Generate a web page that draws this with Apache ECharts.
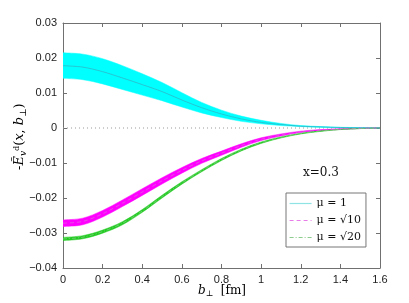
<!DOCTYPE html>
<html><head><meta charset="utf-8">
<script src="https://cdn.jsdelivr.net/npm/echarts@6/dist/echarts.min.js"></script>
<style>html,body{margin:0;padding:0;background:#fff}#c{width:409px;height:303px}</style>
</head><body><div id="c"></div>
<script>
const bPerp = [0,0.1,0.2,0.3,0.4,0.5,0.6,0.7,0.8,0.9,1.0,1.1,1.2,1.3,1.4,1.5,1.6];
const mu1Upper  = [0.0215,0.0211,0.0198,0.0178,0.0155,0.0130,0.0101,0.0073,0.0051,0.0034,0.0022,0.0013,0.0007,0.0004,0.0002,0.0001,0];
const mu1Lower  = [0.0142,0.0138,0.0126,0.0110,0.0094,0.0078,0.0060,0.0043,0.0030,0.0019,0.0012,0.0007,0.0004,0.0002,0.0001,0.00003,0];
const mu1Center = [0.0178,0.0174,0.0161,0.0143,0.0124,0.0104,0.0080,0.0058,0.0040,0.0026,0.0016,0.0010,0.0005,0.0003,0.00015,0.00006,0];
const mu10Center = [-0.0272,-0.0267,-0.0245,-0.0215,-0.0183,-0.0151,-0.0121,-0.0094,-0.0072,-0.0050,-0.0032,-0.0020,-0.0011,-0.0006,-0.0003,-0.0001,0];
const mu10Half   = [0.00095,0.00095,0.00095,0.00095,0.00095,0.0009,0.0008,0.0007,0.0006,0.0005,0.0004,0.0003,0.0002,0.00015,0.0001,0.00005,0];
const mu20Center = [-0.0317,-0.0312,-0.0296,-0.0272,-0.0237,-0.0196,-0.0157,-0.0122,-0.0090,-0.0063,-0.0042,-0.0027,-0.0016,-0.0009,-0.0004,-0.00015,0];
const mu20Half   = [0.00045,0.00045,0.00045,0.00045,0.0004,0.0004,0.00035,0.0003,0.0003,0.00025,0.0002,0.00015,0.0001,0.00008,0.00005,0.00002,0];
const xTicks = {min:0, max:1.6, interval:0.2};
const yTicks = {min:-0.04, max:0.03, interval:0.01};
const legendNames = ['μ = 1','μ = √10','μ = √20'];

const chart = echarts.init(document.getElementById('c'), null, {renderer:'canvas'});
// Catmull-Rom -> cubic bezier path through pixel points (rendering only)
function smoothPath(pts, start){
  let d = (start ? 'M' : 'L') + pts[0][0] + ',' + pts[0][1];
  const n = pts.length;
  for (let i=0;i<n-1;i++){
    const p0 = pts[Math.max(0,i-1)], p1 = pts[i], p2 = pts[i+1], p3 = pts[Math.min(n-1,i+2)];
    const c1 = [p1[0] + (p2[0]-p0[0])/6, p1[1] + (p2[1]-p0[1])/6];
    const c2 = [p2[0] - (p3[0]-p1[0])/6, p2[1] - (p3[1]-p1[1])/6];
    d += 'C' + c1[0] + ',' + c1[1] + ' ' + c2[0] + ',' + c2[1] + ' ' + p2[0] + ',' + p2[1];
  }
  return d;
}
function band(lowerArr, upperArr, color){
  const rows = bPerp.map((x,i)=>[x, lowerArr[i], upperArr[i]]);
  return {
    type:'custom', data:rows, encode:{x:0, y:[1,2]}, clip:true, silent:true, z:2,
    renderItem:(params, api)=>{
      if (params.dataIndex !== 0) return null;
      const upper = rows.map(r=>api.coord([r[0], r[2]]));
      const lower = rows.map(r=>api.coord([r[0], r[1]])).reverse();
      const d = smoothPath(upper, true) + smoothPath(lower, false) + 'Z';
      return {type:'path', shape:{pathData:d},
        style:{fill:color, stroke:color, lineWidth:0.5}};
    }
  };
}
function centerLine(name, center, color, type){
  return {type:'line', name:name, data:bPerp.map((x,i)=>[x,center[i]]), showSymbol:false, symbol:'none', smooth:0.3,
    lineStyle:{width:0.8, color:color, type:type}, itemStyle:{color:color}, z:3};
}
const yFmt = v => { const r = Math.round(v*100)/100; if (r===0) return '0'; return (r<0?'\u2212':'') + Math.abs(r).toFixed(2); };
const xFmt = v => String(Math.round(v*10)/10);
const axisLineStyle = {color:'#707070', width:1};
const labelStyle = {fontFamily:'Liberation Sans', fontSize:11, color:'#222'};

chart.setOption({
  animation:false,
  grid:{left:63, right:29, top:23, bottom:35},
  xAxis:[
    {type:'value', ...xTicks, position:'bottom', axisLine:{onZero:false, lineStyle:axisLineStyle}, axisTick:{inside:true, length:4, lineStyle:axisLineStyle},
     axisLabel:{...labelStyle, formatter:xFmt, margin:6}, splitLine:{show:false}},
    {type:'value', ...xTicks, position:'top', axisLine:{onZero:false, lineStyle:axisLineStyle}, axisTick:{inside:true, length:4, lineStyle:axisLineStyle},
     axisLabel:{show:false}, splitLine:{show:false}}
  ],
  yAxis:[
    {type:'value', ...yTicks, position:'left', axisLine:{show:true, onZero:false, lineStyle:axisLineStyle}, axisTick:{show:true, inside:true, length:4, lineStyle:axisLineStyle},
     axisLabel:{...labelStyle, formatter:yFmt, margin:6}, splitLine:{show:false}},
    {type:'value', ...yTicks, position:'right', axisLine:{show:true, onZero:false, lineStyle:axisLineStyle}, axisTick:{show:true, inside:true, length:4, lineStyle:axisLineStyle},
     axisLabel:{show:false}, splitLine:{show:false}}
  ],
  legend:{
    data:[
      {name:legendNames[0], itemStyle:{opacity:0}, lineStyle:{color:'#8fe3e3', width:1.2, type:'solid'}},
      {name:legendNames[1], itemStyle:{opacity:0}, lineStyle:{color:'#e87ce8', width:1.2, type:[4,3]}},
      {name:legendNames[2], itemStyle:{opacity:0}, lineStyle:{color:'#8ccc8c', width:1.2, type:[4,2,1,2]}}
    ],
    orient:'vertical', left:286, top:193,
    backgroundColor:'#fff', borderColor:'#777', borderWidth:1, borderRadius:0,
    padding:[5,5,4,3], itemGap:6, itemWidth:22, itemHeight:8,
    textStyle:{fontFamily:'DejaVu Serif', fontSize:11, color:'#111'}
  },
  series:[
    {type:'line', name:'zero', data:[[0,0],[1.6,0]], showSymbol:false, symbol:'none',
     lineStyle:{color:'#999', width:1, type:[1,3]}, z:1, silent:true},
    band(mu1Lower, mu1Upper, '#00ffff'),
    band(mu10Center.map((c,i)=>c-mu10Half[i]), mu10Center.map((c,i)=>c+mu10Half[i]), '#ff00ff'),
    band(mu20Center.map((c,i)=>c-mu20Half[i]), mu20Center.map((c,i)=>c+mu20Half[i]), '#22cc22'),
    centerLine(legendNames[0], mu1Center, '#2fb8c8', 'solid'),
    centerLine(legendNames[1], mu10Center, '#e060e0', [4,3]),
    centerLine(legendNames[2], mu20Center, '#7cc87c', [4,2,1,2])
  ],
  graphic:[
    {type:'text', left:303, top:167, style:{text:'x=0.3', font:'12px "DejaVu Serif"', fill:'#111'}},
    {type:'text', x:198, y:284, style:{
      rich:{i:{fontFamily:'DejaVu Serif', fontStyle:'italic', fontSize:12, color:'#111'},
            s:{fontFamily:'DejaVu Serif', fontSize:8, color:'#111', padding:[6,0,0,0]},
            r:{fontFamily:'DejaVu Serif', fontSize:12, color:'#111'}},
      text:'{i|b}{s|⊥}{r|  [fm]}'}},
    {type:'text', x:12, y:170, rotation:Math.PI/2, style:{
      rich:{i:{fontFamily:'DejaVu Serif', fontStyle:'italic', fontSize:13, color:'#111'},
            s:{fontFamily:'DejaVu Serif', fontStyle:'italic', fontSize:9, color:'#111', padding:[7,0,0,0]},
            u:{fontFamily:'DejaVu Serif', fontSize:13, color:'#111'},
            r:{fontFamily:'DejaVu Serif', fontSize:13, color:'#111'}},
      text:'{r|-}{i|Ẽ}{s|v}{u|ᵈ}{r|(}{i|x}{r|, }{i|b}{s|⊥}{r|)}'}}
  ]
});
</script></body></html>
